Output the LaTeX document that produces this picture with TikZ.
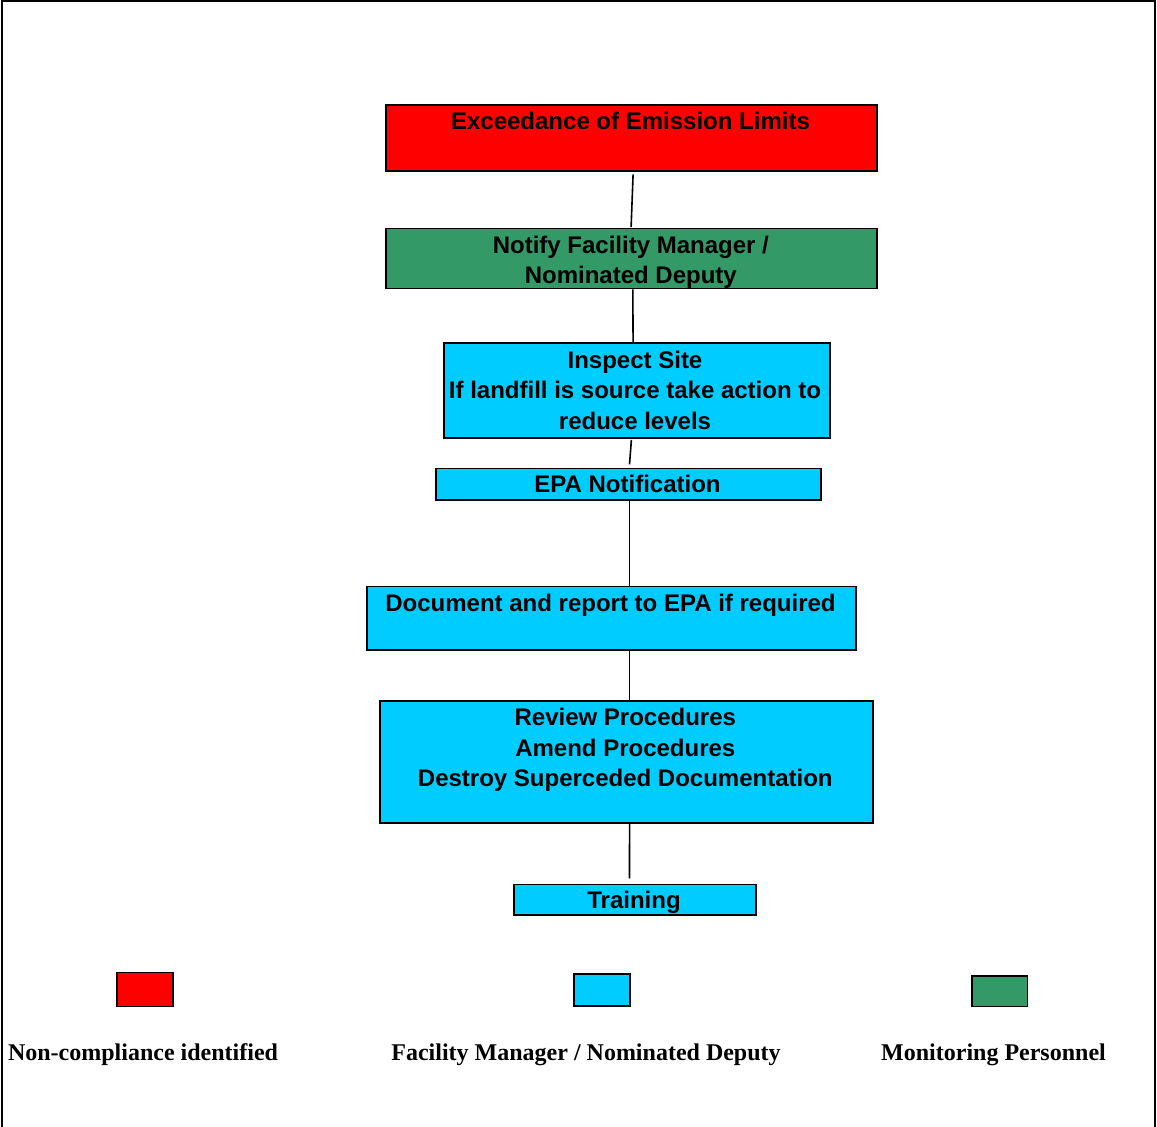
\documentclass[tikz,border=0pt]{standalone}
\usepackage{fontspec}
\setmainfont{Liberation Sans}
\newfontfamily\legendfont{Liberation Serif}
\usetikzlibrary{calc}

\definecolor{alarmred}{RGB}{255,0,0}
\definecolor{staffgreen}{RGB}{51,153,102}
\definecolor{actioncyan}{RGB}{0,204,255}

\tikzset{
  stepbox/.style={draw=black, line width=1.6pt, rectangle, inner sep=0pt, anchor=north west},
  steptext/.style={inner sep=0pt, anchor=north, align=center,
    font=\fontsize{24}{30.5}\selectfont\bfseries},
  link/.style={draw=black, line width=1.6pt},
  keybox/.style={draw=black, line width=1.6pt, rectangle, inner sep=0pt, anchor=north west},
  keytext/.style={inner sep=0pt, anchor=base, font=\legendfont\fontsize{24}{28}\selectfont\bfseries},
}

\begin{document}
\begin{tikzpicture}[x=1pt, y=-1pt]
  \useasboundingbox (0,0) rectangle (1157,1127);

  % outer frame (open at the bottom)
  \begin{scope}
    \clip (0,0) rectangle (1157,1127);
    \draw[line width=1.8pt] (2,1140) -- (2,1) -- (1155,1) -- (1155,1140);
  \end{scope}

  % process boxes
  \node[stepbox, fill=alarmred,   minimum width=491, minimum height=66] (limits)   at (385,104)   {};
  \node[stepbox, fill=staffgreen, minimum width=491, minimum height=60] (notify)   at (385,227.7) {};
  \node[stepbox, fill=actioncyan, minimum width=386, minimum height=95] (inspect)  at (443,342.3) {};
  \node[stepbox, fill=actioncyan, minimum width=385, minimum height=31.6] (epa)    at (435,467.7) {};
  \node[stepbox, fill=actioncyan, minimum width=489, minimum height=63.6] (doc)    at (366,585.7) {};
  \node[stepbox, fill=actioncyan, minimum width=493, minimum height=122] (review)   at (379.3,700.3) {};
  \node[stepbox, fill=actioncyan, minimum width=241.7, minimum height=30.3] (training) at (513.3,883.7) {};

  % box texts
  \node[steptext] (limits-t)   at (630.5,112)   {Exceedance of Emission Limits};
  \node[steptext] (notify-t)   at (630.8,235.5) {Notify Facility Manager /\\Nominated Deputy};
  \node[steptext] (inspect-t)  at (635,350.5)   {Inspect Site\\If landfill is source take action to\\reduce levels};
  \node[steptext] (epa-t)      at (627.5,475.3) {EPA Notification};
  \node[steptext] (doc-t)      at (610.5,593.5) {Document and report to EPA if required};
  \node[steptext] (review-t)   at (625.3,708.3) {Review Procedures\\Amend Procedures\\Destroy Superceded Documentation};
  \node[steptext] (training-t) at (634,891)     {Training};

  % connectors
  \draw[link] ($(limits.south)+(1.8,2.7)$) -- ($(notify.north)+(-0.2,-0.5)$);
  \draw[link] ($(notify.south)+(1.5,0)$) -- ($(inspect.north)+(-3.7,0)$);
  \draw[link] ($(inspect.south)+(-5.4,1)$) -- ($(epa.north)+(1.2,-3.4)$);
  \draw[link] ([xshift=1]epa.south) -- ([xshift=1]epa.south |- doc.north);
  \draw[link] ([xshift=3]review.north |- doc.south) -- ([xshift=3]review.north);
  \draw[link] ([xshift=3]review.south) -- ($(training.north)+(-5.5,-5.4)$);

  % legend
  \node[keybox, fill=alarmred,   minimum width=56, minimum height=34] (key-red)   at (116,971.7) {};
  \node[keybox, fill=actioncyan, minimum width=55.5, minimum height=32] (key-cyan) at (573.4,973.3) {};
  \node[keybox, fill=staffgreen, minimum width=55.5, minimum height=30.5] (key-green) at (971.2,975) {};

  \node[keytext] (key-red-t)   at (143,1060)   {Non-compliance identified};
  \node[keytext] (key-cyan-t)  at (586,1060)   {Facility Manager / Nominated Deputy};
  \node[keytext] (key-green-t) at (993.5,1060) {Monitoring Personnel};
\end{tikzpicture}
\end{document}
